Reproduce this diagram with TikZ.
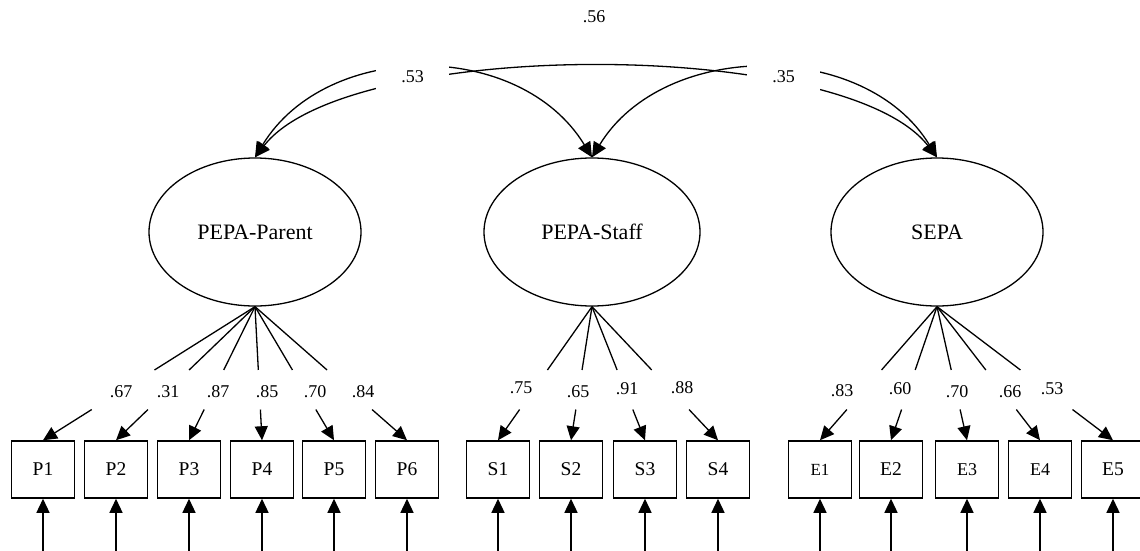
\documentclass[tikz,border=0pt]{standalone}
\usepackage{fontspec}
\setmainfont{Liberation Serif}
\usetikzlibrary{arrows.meta,calc,shapes.geometric}
\begin{document}
\begin{tikzpicture}[x=1pt,y=-1pt,
  lat/.style={ellipse, draw, line width=1.3pt, minimum width=212pt, minimum height=148pt, inner sep=0pt, font=\fontsize{22}{26}\selectfont},
  obs/.style={rectangle, draw, line width=1.5pt, minimum width=63pt, minimum height=57pt, inner sep=0pt, font=\fontsize{19.5}{23}\selectfont},
  ld/.style={inner sep=0pt, font=\fontsize{18}{21}\selectfont},
  gap/.style={ld, fill=white, minimum width=73pt, minimum height=42pt},
  ln/.style={line width=1.3pt},
  cov/.style={line width=1.3pt, {Triangle[length=15pt,width=14pt]}-{Triangle[length=15pt,width=14pt]}},
  ldarrow/.style={line width=1.3pt, -{Triangle[length=14pt,width=13pt]}}
]
\useasboundingbox (0,0) rectangle (1140,551);

% latent variables
\node[lat] (Par) at (255,232) {PEPA-Parent};
\node[lat, minimum width=216pt] (Sta) at (592,232) {PEPA-Staff};
\node[lat] (Sep) at (937,232) {SEPA};

% observed variables
\foreach \n/\x in {P1/43,P2/116,P3/189,P4/262,P5/334,P6/407,S1/498,S2/571,S3/645,S4/718,E2/891,E5/1113}
  \node[obs] (\n) at (\x,469.5) {\n};
\node[obs, font=\fontsize{17}{20}\selectfont] (E1) at (820,469.5) {E1};
\node[obs, font=\fontsize{18}{21}\selectfont] (E3) at (967,469.5) {E3};
\node[obs, font=\fontsize{18}{21}\selectfont] (E4) at (1040,469.5) {E4};

% covariances
\draw[cov] (Par.north) .. controls +(72,-118) and +(-72,-118) .. (Sta.north);
\draw[cov] (Sta.north) .. controls +(72,-118) and +(-72,-118) .. (Sep.north);
\draw[cov] (Par.north) .. controls +(93,-120) and +(-93,-120) .. (Sep.north);
\node[gap] (c53) at (412.5,77) {.53};
\node[gap] (c35) at (783.5,77) {.35};
\node[ld] (c56) at (594,17) {.56};

% loadings
\foreach \l/\b/\v/\lx/\ly in {
  Par/P1/.67/121/392, Par/P2/.31/168/392, Par/P3/.87/218/392,
  Par/P4/.85/267/392, Par/P5/.70/315/392, Par/P6/.84/363/392,
  Sta/S1/.75/521/388, Sta/S2/.65/578/392, Sta/S3/.91/627/389, Sta/S4/.88/682/388,
  Sep/E1/.83/842/391, Sep/E2/.60/900/389, Sep/E3/.70/957/392,
  Sep/E4/.66/1010/392, Sep/E5/.53/1052/389} {
  \draw[ln] (\l.south) -- ($(\l.south)!0.474!(\b.north)$);
  \draw[ldarrow] ($(\l.south)!0.770!(\b.north)$) -- (\b.north);
  \node[ld] (lab\b) at (\lx,\ly) {\v};
  \coordinate (r\b) at ($(\b.south)+(0,53)$);
  \draw[ldarrow] (r\b) -- (\b.south);
}
\end{tikzpicture}
\end{document}
